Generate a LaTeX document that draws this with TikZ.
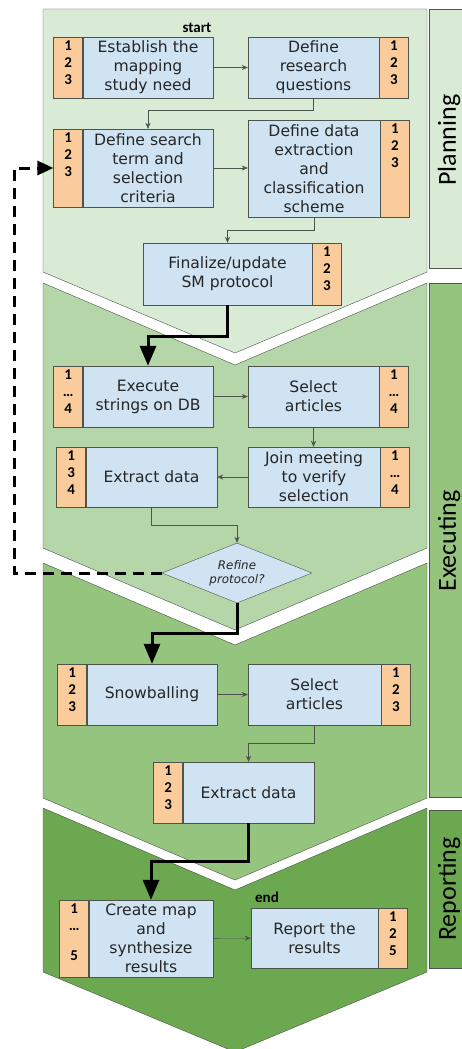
\documentclass[tikz,border=0pt]{standalone}
\usepackage{fontspec}
\setmainfont{DejaVu Sans}
\newfontfamily\numfont{Carlito}
\usepackage{tikz}
\usetikzlibrary{positioning}
\usetikzlibrary{shapes.geometric}
\usetikzlibrary{arrows.meta}
\definecolor{planfill}{rgb}{0.85,0.92,0.83}
\definecolor{execfill}{rgb}{0.71,0.84,0.66}
\definecolor{snowfill}{rgb}{0.58,0.77,0.49}
\definecolor{repfill}{rgb}{0.42,0.66,0.31}
\definecolor{taskblue}{rgb}{0.81,0.89,0.95}
\definecolor{numorange}{rgb}{0.98,0.80,0.61}
\definecolor{edge}{rgb}{0.30,0.33,0.30}

\begin{document}
\begin{tikzpicture}[x=1pt,y=-1pt,
  task/.style={rectangle,draw=edge,fill=taskblue,align=center,inner sep=1pt,
    text=black!85,font=\fontsize{15.6}{19}\selectfont},
  numbox/.style={rectangle,draw=edge,fill=numorange,minimum width=29,inner sep=0pt},
  nums/.style={anchor=north,inner xsep=0pt,inner ysep=4pt,align=center,
    font=\numfont\bfseries\fontsize{15}{17}\selectfont},
  decide/.style={diamond,draw=edge,fill=taskblue,aspect=2.5,inner sep=0pt,
    minimum width=150,minimum height=60,align=center,text=black!85,
    font=\itshape\fontsize{11.9}{14}\selectfont},
  tag/.style={inner sep=1pt,font=\numfont\bfseries\fontsize{15}{18}\selectfont},
  phasetag/.style={rotate=90,font=\numfont\fontsize{26}{30}\selectfont},
  flow/.style={draw=edge,-{Stealth[length=6pt,width=5pt]}},
  jump/.style={line width=3pt,-{Triangle[length=20pt,width=16pt]}},
  retry/.style={line width=3pt,dash pattern=on 11pt off 7pt,-{Triangle[length=16pt,width=14pt]}}]
  \useasboundingbox (0,0) rectangle (461,1049);

  % phases
  \filldraw[fill=planfill,draw=edge] (43,9) -- (427,9) -- (427,272) -- (235,353) -- (43,272) -- cycle;
  \filldraw[fill=execfill,draw=edge] (43,283) -- (235,365) -- (427,283) -- (427,548) -- (235,630) -- (43,548) -- cycle;
  \filldraw[fill=snowfill,draw=edge] (43,563) -- (235,645) -- (427,563) -- (427,798) -- (235,880) -- (43,798) -- cycle;
  \filldraw[fill=repfill,draw=edge] (43,808) -- (235,890) -- (427,808) -- (427,972) -- (235,1052) -- (43,972) -- cycle;

  \filldraw[fill=planfill,draw=edge] (429,9) rectangle (480,268);
  \filldraw[fill=snowfill,draw=edge] (429,283) rectangle (480,797);
  \filldraw[fill=repfill,draw=edge] (429,810) rectangle (480,968);
  \node[phasetag] (plan-t) at (449,140) {Planning};
  \node[phasetag] (exec-t) at (449,541) {Executing};
  \node[phasetag] (rep-t) at (449,889) {Reporting};

  % planning
  \node[task,minimum width=130,minimum height=61] (need) at (148,67.5) {Establish the\\mapping\\study need};
  \node[numbox,minimum height=61,left=0pt of need,label={[nums]north:{1\\2\\3}}] (need-n) {};
  \node[tag] (start) at (197,28) {start};
  \node[task,minimum width=131,minimum height=61] (questions) at (313.5,67.5) {Define\\research\\questions};
  \node[numbox,minimum height=61,right=0pt of questions,label={[nums]north:{1\\2\\3}}] (questions-n) {};
  \node[task,minimum width=130,minimum height=78] (search) at (148,168) {Define search\\term and\\selection\\criteria};
  \node[numbox,minimum height=78,left=0pt of search,label={[nums]north:{1\\2\\3}}] (search-n) {};
  \node[task,minimum width=132,minimum height=97] (scheme) at (314,168.5) {Define data\\extraction\\and\\classification\\scheme};
  \node[numbox,minimum height=97,right=0pt of scheme,label={[nums]north:{1\\2\\3}}] (scheme-n) {};
  \node[task,minimum width=169,minimum height=62] (protocol) at (227.5,274) {Finalize/update\\SM protocol};
  \node[numbox,minimum height=62,right=0pt of protocol,label={[nums]north:{1\\2\\3}}] (protocol-n) {};

  % executing
  \node[task,minimum width=130,minimum height=61] (rundb) at (148,396.5) {Execute\\strings on DB};
  \node[numbox,minimum height=61,left=0pt of rundb,label={[nums]north:{1\\\ldots\\4}}] (rundb-n) {};
  \node[task,minimum width=131,minimum height=61] (select) at (313.5,396.5) {Select\\articles};
  \node[numbox,minimum height=61,right=0pt of select,label={[nums]north:{1\\\ldots\\4}}] (select-n) {};
  \node[task,minimum width=132,minimum height=60] (meeting) at (314,477) {Join meeting\\to verify\\selection};
  \node[numbox,minimum height=60,right=0pt of meeting,label={[nums]north:{1\\\ldots\\4}}] (meeting-n) {};
  \node[task,minimum width=131,minimum height=60] (extract) at (151.5,477) {Extract data};
  \node[numbox,minimum height=60,left=0pt of extract,label={[nums]north:{1\\3\\4}}] (extract-n) {};
  \node[decide] (refine) at (237,573) {Refine\\protocol?};

  \node[task,minimum width=130,minimum height=61] (snowball) at (152,694.5) {Snowballing};
  \node[numbox,minimum height=61,left=0pt of snowball,label={[nums]north:{1\\2\\3}}] (snowball-n) {};
  \node[task,minimum width=133,minimum height=61] (reselect) at (314.5,694.5) {Select\\articles};
  \node[numbox,minimum height=61,right=0pt of reselect,label={[nums]north:{1\\2\\3}}] (reselect-n) {};
  \node[task,minimum width=131,minimum height=61] (reextract) at (248.5,792.5) {Extract data};
  \node[numbox,minimum height=61,left=0pt of reextract,label={[nums]north:{1\\2\\3}}] (reextract-n) {};

  % reporting
  \node[task,minimum width=124,minimum height=77] (synth) at (151,938.5) {Create map\\and\\synthesize\\results};
  \node[numbox,minimum height=77,left=0pt of synth,label={[nums]north:{1\\\ldots\\[13pt]5}}] (synth-n) {};
  \node[task,minimum width=127,minimum height=60] (report) at (314.5,938) {Report the\\results};
  \node[numbox,minimum height=60,right=0pt of report,label={[nums]north:{1\\2\\5}}] (report-n) {};
  \node[tag] (finish) at (267,897) {end};

  % connectors
  \draw[flow] (need) -- (questions);
  \draw[flow] (questions.south) -- ++(0,12) -| (search.north);
  \draw[flow] (search) -- (search -| scheme.west);
  \draw[flow] (scheme.south) -- ++(0,13) -| (protocol.north);
  \draw[jump] (protocol.south) -- ++(0,31) -| (rundb.north);
  \draw[flow] (rundb) -- (select);
  \draw[flow] (select.south) -- (select.south |- meeting.north);
  \draw[flow] (meeting) -- (extract);
  \draw[flow] (extract.south) -- ++(0,18) -| (refine.north);
  \coordinate (back) at (14,573);
  \draw[retry] (refine.west) -- (back) |- (search-n.west);
  \draw[jump] (refine.south) -- ++(0,30) -| (snowball.north);
  \draw[flow] (snowball) -- (reselect);
  \draw[flow] (reselect.south) -- ++(0,18) -| (reextract.north);
  \draw[jump] (reextract.south) -- ++(0,38) -| (synth.north);
  \draw[flow] (synth) -- (report);
\end{tikzpicture}
\end{document}
